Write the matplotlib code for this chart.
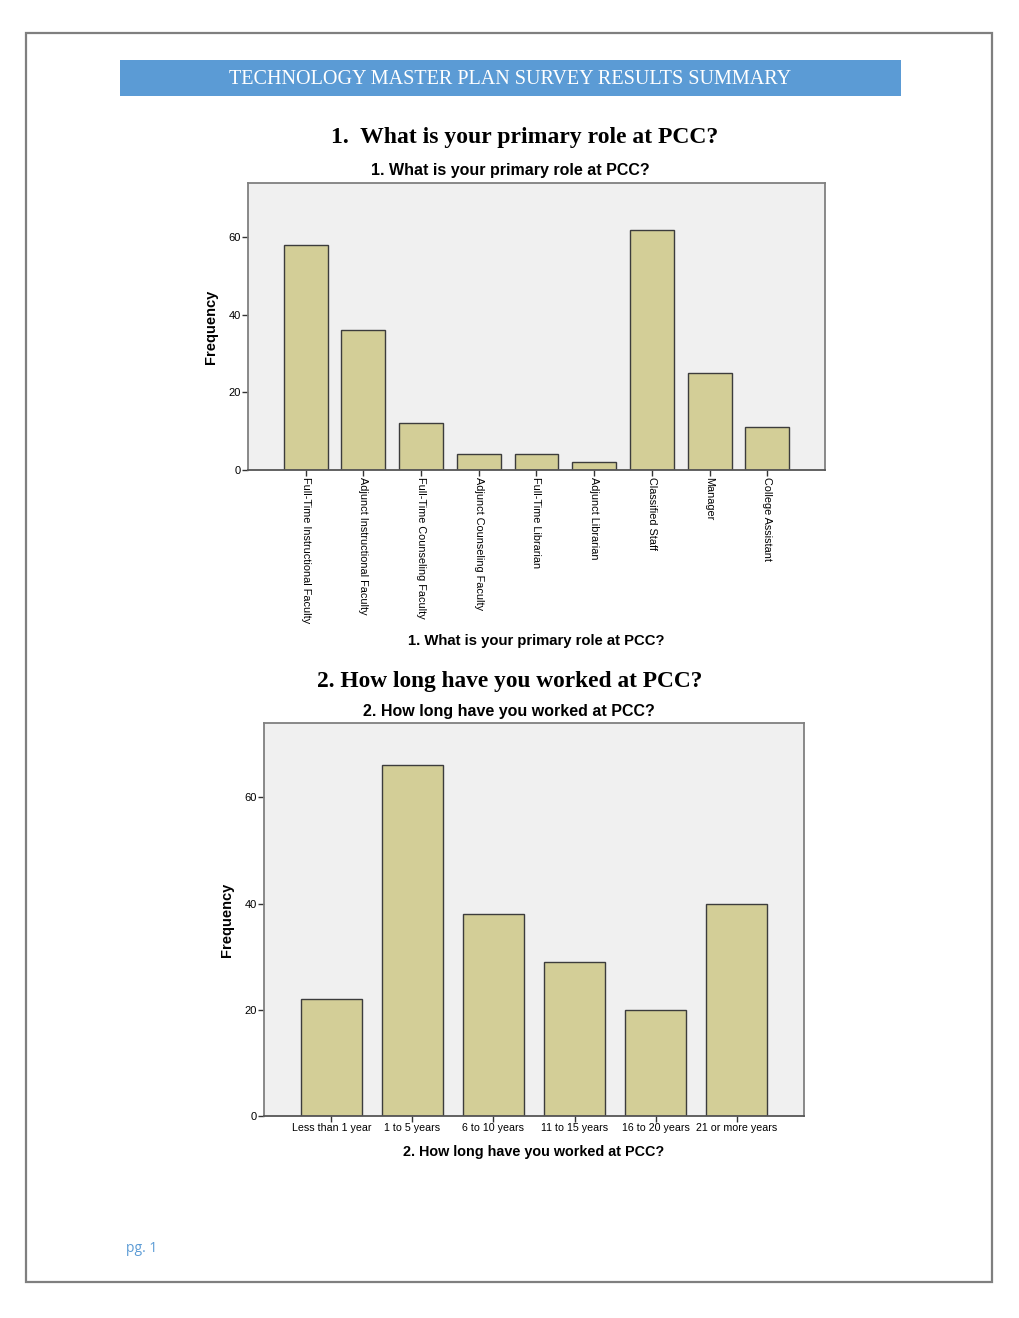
import matplotlib
matplotlib.use("Agg")
import matplotlib.pyplot as plt
from matplotlib.patches import Rectangle

W, H = 1020, 1318

roles = ["Full-Time Instructional Faculty", "Adjunct Instructional Faculty",
         "Full-Time Counseling Faculty", "Adjunct Counseling Faculty",
         "Full-Time Librarian", "Adjunct Librarian", "Classified Staff",
         "Manager", "College Assistant"]
role_counts = [58, 36, 12, 4, 4, 2, 62, 25, 11]

years = ["Less than 1 year", "1 to 5 years", "6 to 10 years",
         "11 to 15 years", "16 to 20 years", "21 or more years"]
year_counts = [22, 66, 38, 29, 20, 40]

yticks = [0, 20, 40, 60]

BAR = "#d3ce97"
EDGE = "#3c3c3c"
BLUE = "#5b9bd5"
SERIF = "Liberation Serif"
SANS = "Liberation Sans"


def px(x, y):
    return x / W, 1 - y / H


def box(l, t, r, b):
    return [l / W, 1 - b / H, (r - l) / W, (b - t) / H]


fig = plt.figure(figsize=(W / 100, H / 100), dpi=100)

# page frame and header bar
fig.patches.append(Rectangle(px(26, 1282), (992 - 26) / W, (1282 - 33) / H,
                             transform=fig.transFigure, fill=False,
                             edgecolor="#7f7f7f", linewidth=1.6))
fig.patches.append(Rectangle(px(120, 96), (901 - 120) / W, 36 / H,
                             transform=fig.transFigure, facecolor=BLUE,
                             edgecolor="none"))
fig.text(*px(510, 79), "TECHNOLOGY MASTER PLAN SURVEY RESULTS SUMMARY",
         color="white", family=SERIF, fontsize=14.5, ha="center", va="center")

fig.text(*px(525, 138), "1.  What is your primary role at PCC?",
         family=SERIF, fontsize=17, weight="bold", ha="center", va="center")
fig.text(*px(510, 681), "2. How long have you worked at PCC?",
         family=SERIF, fontsize=16.8, weight="bold", ha="center", va="center")
fig.text(*px(126, 1249), "pg. 1", color=BLUE, family="Open Sans",
         fontsize=10, ha="left", va="center")


def style(ax):
    ax.set_facecolor("#f0f0f0")
    for s in ax.spines.values():
        s.set_color("#808080")
        s.set_linewidth(1.3)
    ax.spines["bottom"].set_color("#555555")
    ax.set_ylim(0, 74)
    ax.set_yticks(yticks)
    ax.tick_params(axis="both", length=4, width=1, color="#333333",
                   labelsize=8, pad=1)
    for lab in ax.get_yticklabels():
        lab.set_family(SANS)


# chart 1
ax1 = fig.add_axes(box(248, 183, 825, 470))
ax1.bar(range(len(roles)), role_counts, width=0.76, color=BAR,
        edgecolor=EDGE, linewidth=1)
ax1.set_xlim(-1, 9)
style(ax1)
ax1.set_xticks(range(len(roles)))
ax1.set_xticklabels(roles, rotation=270, family=SANS, fontsize=7.8,
                    va="top", ha="center")
ax1.set_ylabel("Frequency", family=SANS, weight="bold", fontsize=10.5,
               labelpad=8)
fig.text(*px(510, 170), "1. What is your primary role at PCC?", family=SANS,
         weight="bold", fontsize=11.5, ha="center", va="center")
fig.text(*px(536, 641), "1. What is your primary role at PCC?", family=SANS,
         weight="bold", fontsize=10.7, ha="center", va="center")

# chart 2
ax2 = fig.add_axes(box(264, 723, 804, 1116))
ax2.bar(range(len(years)), year_counts, width=0.75, color=BAR,
        edgecolor=EDGE, linewidth=1)
ax2.set_xlim(-0.83, 5.83)
style(ax2)
ax2.set_xticks(range(len(years)))
ax2.set_xticklabels(years, family=SANS, fontsize=7.7)
ax2.set_ylabel("Frequency", family=SANS, weight="bold", fontsize=10.5,
               labelpad=8)
fig.text(*px(509, 712), "2. How long have you worked at PCC?", family=SANS,
         weight="bold", fontsize=11.5, ha="center", va="center")
fig.text(*px(534, 1152), "2. How long have you worked at PCC?", family=SANS,
         weight="bold", fontsize=10.4, ha="center", va="center")

fig.savefig("out.png", dpi=100)
